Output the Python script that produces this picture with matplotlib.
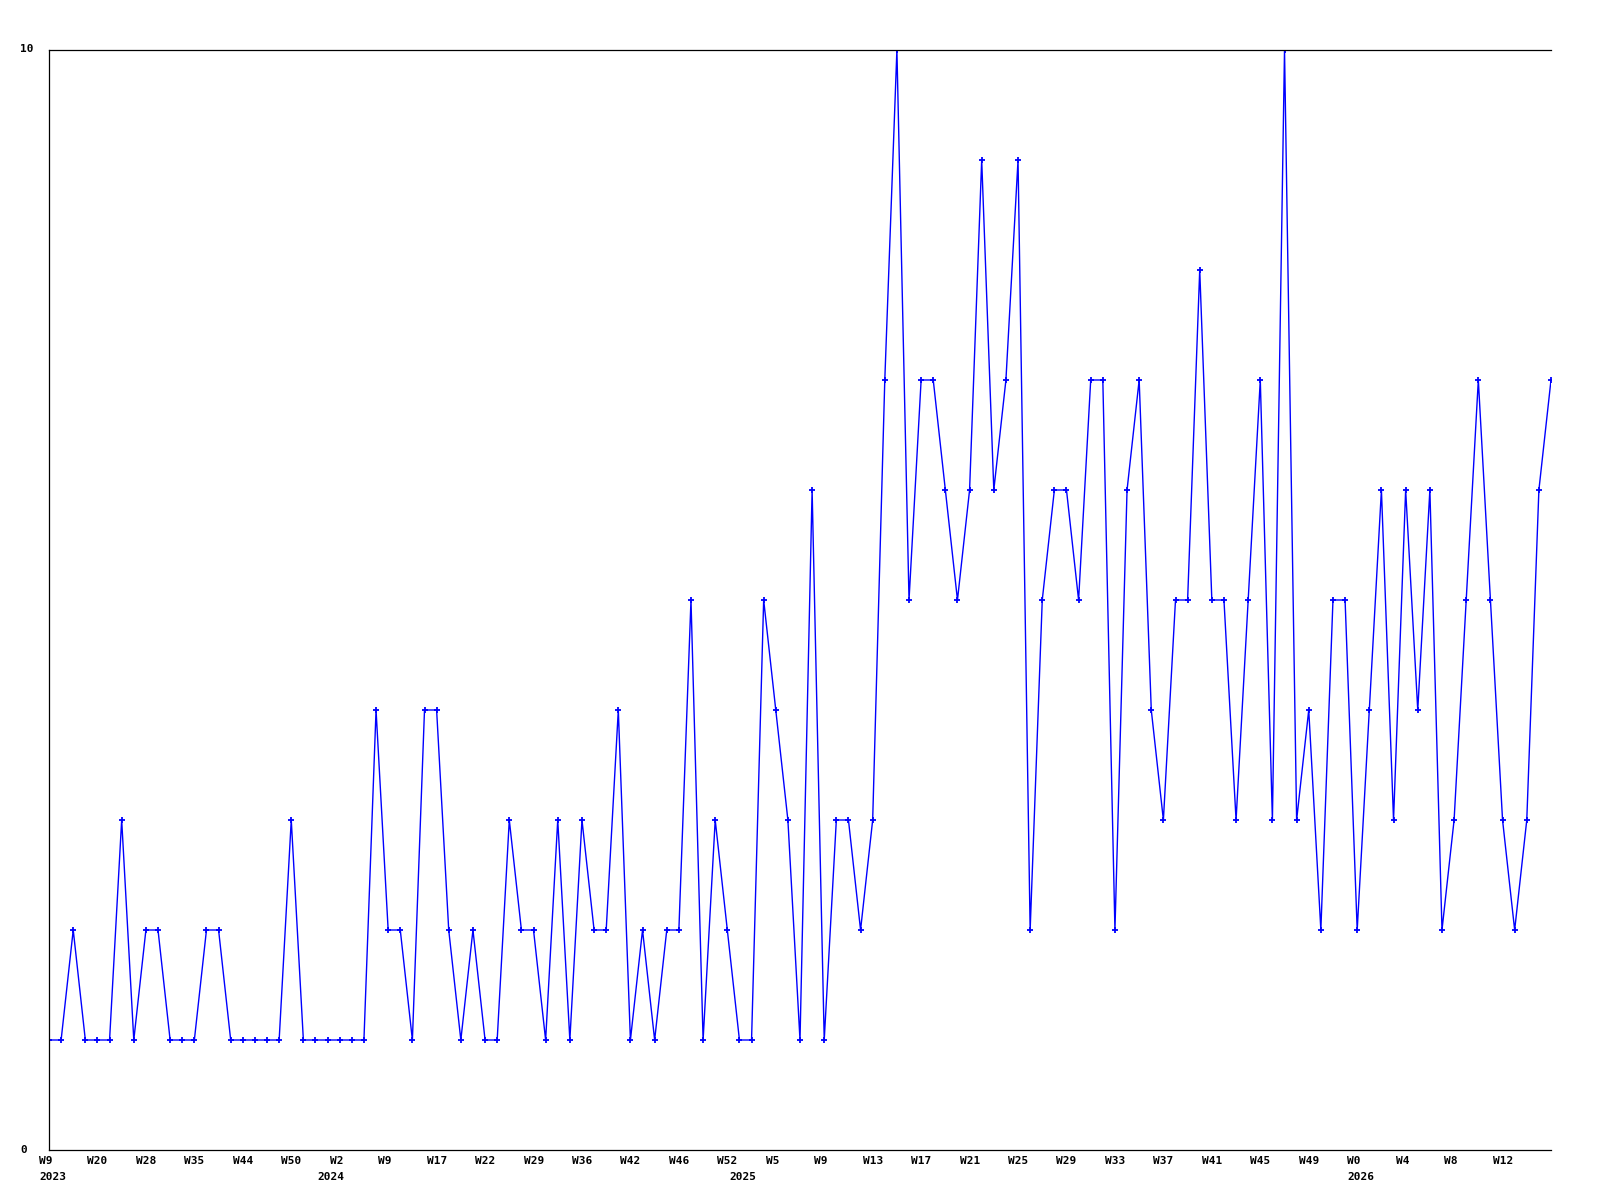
import numpy as np
import matplotlib.pyplot as plt
from matplotlib import transforms

# weekly counts
values = [1, 1, 2, 1, 1, 1, 3, 1, 2, 2, 1, 1, 1, 2, 2, 1, 1, 1, 1, 1,
          3, 1, 1, 1, 1, 1, 1, 4, 2, 2, 1, 4, 4, 2, 1, 2, 1, 1, 3, 2,
          2, 1, 3, 1, 3, 2, 2, 4, 1, 2, 1, 2, 2, 5, 1, 3, 2, 1, 1, 5,
          4, 3, 1, 6, 1, 3, 3, 2, 3, 7, 10, 5, 7, 7, 6, 5, 6, 9, 6, 7,
          9, 2, 5, 6, 6, 5, 7, 7, 2, 6, 7, 4, 3, 5, 5, 8, 5, 5, 3, 5,
          7, 3, 10, 3, 4, 2, 5, 5, 2, 4, 6, 3, 6, 4, 6, 2, 3, 5, 7, 5,
          3, 2, 3, 6, 7]

week_pos = [0, 4, 8, 12, 16, 20, 24, 28, 32, 36, 40, 44, 48, 52, 56, 60,
            64, 68, 72, 76, 80, 84, 88, 92, 96, 100, 104, 108, 112, 116, 120]
week_labels = ["W9", "W20", "W28", "W35", "W44", "W50", "W2", "W9", "W17",
               "W22", "W29", "W36", "W42", "W46", "W52", "W5", "W9", "W13",
               "W17", "W21", "W25", "W29", "W33", "W37", "W41", "W45", "W49",
               "W0", "W4", "W8", "W12"]
year_pos = [0, 23, 57, 108]
year_labels = ["2023", "2024", "2025", "2026"]

x = np.arange(len(values))

fig = plt.figure(figsize=(16, 12), dpi=100)
ax = fig.add_axes([49/1600, 50/1200, 1502/1600, 1100/1200])

ax.plot(x, values, color="#0000ff", lw=1.0, marker="+", ms=4, mew=1.3)

ax.set_xlim(0, len(values) - 1)
ax.set_ylim(0, 10)
ax.set_xticks([])
ax.set_yticks([])
ax.spines["right"].set_visible(False)
for s in ["left", "top", "bottom"]:
    ax.spines[s].set_linewidth(0.9)
    ax.spines[s].set_color("black")

fnt = dict(family="DejaVu Sans Mono", weight="bold", fontsize=8)

# x labels: left aligned, a few pixels before the point
tr = transforms.blended_transform_factory(ax.transData, ax.transAxes)
tr = transforms.offset_copy(tr, fig=fig, x=-10, y=-11, units="dots")
for p, lab in zip(week_pos, week_labels):
    ax.text(p, 0, lab, transform=tr, ha="left", va="center", **fnt)
tr2 = transforms.offset_copy(transforms.blended_transform_factory(ax.transData, ax.transAxes),
                             fig=fig, x=-10, y=-27, units="dots")
for p, lab in zip(year_pos, year_labels):
    ax.text(p, 0, lab, transform=tr2, ha="left", va="center", **fnt)

# y labels at the left edge of the figure
fig.text(20/1600, 1 - 49/1200, "10", ha="left", va="center", **fnt)
fig.text(20/1600, 1 - 1150/1200, "0", ha="left", va="center", **fnt)

plt.savefig("out.png")
